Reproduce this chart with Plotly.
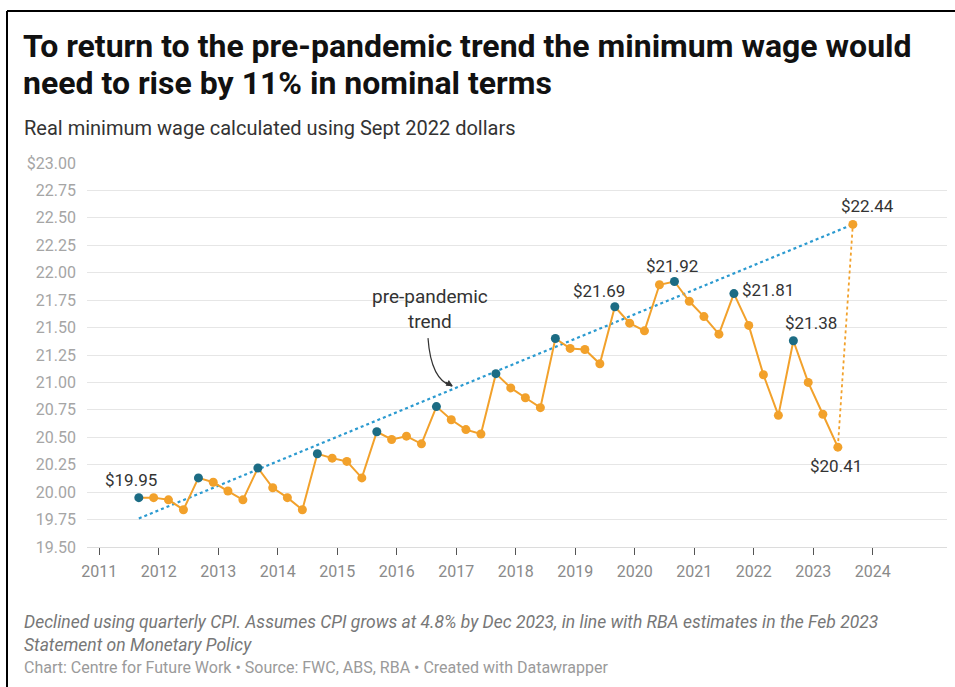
import plotly.graph_objects as go

# Real minimum wage (Sept 2022 dollars), quarterly
quarters = [
    "2011-09-01", "2011-12-01", "2012-03-01", "2012-06-01",
    "2012-09-01", "2012-12-01", "2013-03-01", "2013-06-01",
    "2013-09-01", "2013-12-01", "2014-03-01", "2014-06-01",
    "2014-09-01", "2014-12-01", "2015-03-01", "2015-06-01",
    "2015-09-01", "2015-12-01", "2016-03-01", "2016-06-01",
    "2016-09-01", "2016-12-01", "2017-03-01", "2017-06-01",
    "2017-09-01", "2017-12-01", "2018-03-01", "2018-06-01",
    "2018-09-01", "2018-12-01", "2019-03-01", "2019-06-01",
    "2019-09-01", "2019-12-01", "2020-03-01", "2020-06-01",
    "2020-09-01", "2020-12-01", "2021-03-01", "2021-06-01",
    "2021-09-01", "2021-12-01", "2022-03-01", "2022-06-01",
    "2022-09-01", "2022-12-01", "2023-03-01", "2023-06-01",
]
real_wage = [
    19.95, 19.95, 19.93, 19.84,
    20.13, 20.09, 20.01, 19.93,
    20.22, 20.04, 19.95, 19.84,
    20.35, 20.31, 20.28, 20.13,
    20.55, 20.48, 20.51, 20.44,
    20.78, 20.66, 20.57, 20.53,
    21.08, 20.95, 20.86, 20.77,
    21.40, 21.31, 21.30, 21.17,
    21.69, 21.54, 21.47, 21.89,
    21.92, 21.74, 21.60, 21.44,
    21.81, 21.52, 21.07, 20.70,
    21.38, 21.00, 20.71, 20.41,
]

# Wage needed to get back to the pre-pandemic trend
target_quarter = "2023-09-01"
target_wage = 22.44

# Pre-pandemic trend line end points
trend_quarters = ["2011-09-01", "2023-09-01"]
trend_wage = [19.76, 22.44]

# Axis ticks
x_ticks = ["2011-01-01", "2012-01-01", "2013-01-01", "2014-01-01",
           "2015-01-01", "2016-01-01", "2017-01-01", "2018-01-01",
           "2019-01-01", "2020-01-01", "2021-01-01", "2022-01-01",
           "2023-01-01", "2024-01-01"]
x_tick_text = ["2011", "2012", "2013", "2014", "2015", "2016", "2017",
               "2018", "2019", "2020", "2021", "2022", "2023", "2024"]
y_ticks = [19.50, 19.75, 20.00, 20.25, 20.50, 20.75, 21.00, 21.25,
           21.50, 21.75, 22.00, 22.25, 22.50, 22.75, 23.00]
y_tick_text = ["19.50", "19.75", "20.00", "20.25", "20.50", "20.75", "21.00",
               "21.25", "21.50", "21.75", "22.00", "22.25", "22.50", "22.75",
               "$23.00"]

# ---------------------------------------------------------------- styling
ORANGE = "#f2a12b"
TEAL = "#1c6c84"
TREND = "#2b9ad0"
TEXT = "#333333"
FONT = "Roboto"

W, H = 955, 687
PL, PR, PT, PB = 87, 947, 163, 546.7   # plot area in pixels


def px(x):
    return (x - PL) / (PR - PL)


def py(y):
    return (PB - y) / (PB - PT)


# September quarters (after the annual wage review) are highlighted
marker_colors = [TEAL if q[5:7] == "09" else ORANGE for q in quarters]

fig = go.Figure()

fig.add_trace(go.Scatter(
    x=trend_quarters, y=trend_wage, mode="lines",
    line=dict(color=TREND, width=2.2, dash="dot"),
    hoverinfo="skip", showlegend=False, cliponaxis=False,
))

fig.add_trace(go.Scatter(
    x=[quarters[-1], target_quarter], y=[real_wage[-1], target_wage],
    mode="lines", line=dict(color=ORANGE, width=1.8, dash="dot"),
    hoverinfo="skip", showlegend=False, cliponaxis=False,
))

fig.add_trace(go.Scatter(
    x=quarters, y=real_wage, mode="lines+markers",
    line=dict(color=ORANGE, width=2),
    marker=dict(color=marker_colors, size=9),
    showlegend=False, cliponaxis=False,
))

fig.add_trace(go.Scatter(
    x=[target_quarter], y=[target_wage], mode="markers",
    marker=dict(color=ORANGE, size=9),
    showlegend=False, cliponaxis=False,
))

LABEL_FONT = dict(family=FONT, size=17, color=TEXT)

# Value labels: (quarter, xshift, yshift, xanchor)
label_spots = [
    ("2011-09-01", -8, 18, "center"),
    ("2019-09-01", -16, 16, "center"),
    ("2020-09-01", -2, 15, "center"),
    ("2021-09-01", 6, 4, "left"),
    ("2022-09-01", 18, 18, "center"),
    ("2023-06-01", -2, -19, "center"),
]
annotations = []
for q, dx, dy, anchor in label_spots:
    v = real_wage[quarters.index(q)]
    annotations.append(dict(
        x=q, y=v, xref="x", yref="y", text=f"${v:.2f}", showarrow=False,
        xshift=dx, yshift=dy, xanchor=anchor, yanchor="middle",
        font=LABEL_FONT,
    ))
annotations.append(dict(
    x=target_quarter, y=target_wage, xref="x", yref="y",
    text=f"${target_wage:.2f}", showarrow=False, xshift=15, yshift=18,
    xanchor="center", yanchor="middle", font=LABEL_FONT,
))

# Trend annotation
annotations.append(dict(
    x=px(430), y=py(309), xref="paper", yref="paper",
    text="pre-pandemic<br>trend", showarrow=False, align="center",
    xanchor="center", yanchor="middle",
    font=dict(family=FONT, size=19, color=TEXT),
))
annotations.append(dict(
    x=px(453), y=py(386), xref="paper", yref="paper", text="",
    showarrow=True, ax=-9, ay=-5, arrowhead=2, arrowsize=1.1,
    arrowwidth=1.2, arrowcolor=TEXT, standoff=0,
))

# Title, subtitle and notes
annotations += [
    dict(x=px(21), y=py(46), xref="paper", yref="paper",
         text="<b>To return to the pre-pandemic trend the minimum wage would</b>",
         showarrow=False, xanchor="left", yanchor="middle",
         font=dict(family=FONT, size=32, color="#111111")),
    dict(x=px(21), y=py(83), xref="paper", yref="paper",
         text="<b>need to rise by 11% in nominal terms</b>",
         showarrow=False, xanchor="left", yanchor="middle",
         font=dict(family=FONT, size=32, color="#111111")),
    dict(x=px(22), y=py(128), xref="paper", yref="paper",
         text="Real minimum wage calculated using Sept 2022 dollars",
         showarrow=False, xanchor="left", yanchor="middle",
         font=dict(family=FONT, size=20, color=TEXT)),
    dict(x=px(22), y=py(633), xref="paper", yref="paper",
         text="<i>Declined using quarterly CPI. Assumes CPI grows at 4.8% by "
              "Dec 2023, in line with RBA estimates in the Feb 2023"
              "<br>Statement on Monetary Policy</i>",
         showarrow=False, align="left", xanchor="left", yanchor="middle",
         font=dict(family=FONT, size=17.5, color="#777777")),
    dict(x=px(22), y=py(667), xref="paper", yref="paper",
         text="Chart: Centre for Future Work \u2022 Source: FWC, ABS, RBA "
              "\u2022 Created with Datawrapper",
         showarrow=False, xanchor="left", yanchor="middle",
         font=dict(family=FONT, size=16, color="#9a9a9a")),
]

shapes = [
    # curved arrow stem
    dict(type="path", xref="paper", yref="paper",
         path=f"M {px(428)},{py(338)} Q {px(431)},{py(380)} {px(452)},{py(386)}",
         line=dict(color=TEXT, width=1.2)),
    # frame: top and left rules
    dict(type="line", xref="paper", yref="paper",
         x0=px(7), x1=px(960), y0=py(11), y1=py(11),
         line=dict(color="#000000", width=2)),
    dict(type="line", xref="paper", yref="paper",
         x0=px(7), x1=px(7), y0=py(11), y1=py(690),
         line=dict(color="#000000", width=2)),
]

fig.update_layout(
    width=W, height=H,
    margin=dict(l=PL, r=W - PR, t=PT, b=H - PB, autoexpand=False),
    paper_bgcolor="white", plot_bgcolor="white",
    font=dict(family=FONT, color=TEXT),
    annotations=annotations, shapes=shapes,
    xaxis=dict(
        type="date", range=["2010-10-18", "2025-04-01"],
        tickvals=x_ticks, ticktext=x_tick_text,
        showgrid=False, zeroline=False,
        showline=True, linecolor="#dcdcdc", linewidth=1,
        ticks="outside", ticklen=7, tickwidth=1, tickcolor="#555555",
        ticklabelstandoff=3,
        tickfont=dict(family=FONT, size=16, color="#8a8a8a"),
    ),
    yaxis=dict(
        range=[19.5, 23.0], tickvals=y_ticks, ticktext=y_tick_text,
        showgrid=True, gridcolor="#e6e6e6", gridwidth=1,
        zeroline=False, showline=False, ticks="",
        ticklabelstandoff=10,
        tickfont=dict(family=FONT, size=16, color="#a5a5a5"),
    ),
)

fig.write_html("out.html")
